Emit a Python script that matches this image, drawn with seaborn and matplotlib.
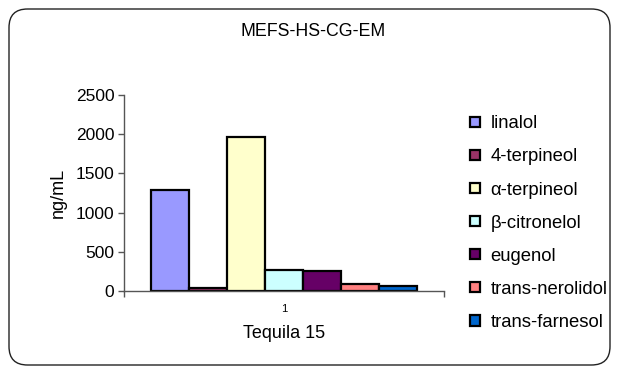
import matplotlib
matplotlib.use("Agg")
import matplotlib.pyplot as plt
from matplotlib.patches import FancyBboxPatch
import seaborn as sns
import pandas as pd

# Concentrations of aroma compounds in one tequila sample
compounds = ["linalol", "4-terpineol", "α-terpineol", "β-citronelol",
             "eugenol", "trans-nerolidol", "trans-farnesol"]
values = [1290, 35, 1965, 265, 250, 95, 70]
sample_labels = ["1"]
bar_colors = ["#9999FF", "#993366", "#FFFFCC", "#CCFFFF",
              "#660066", "#FF8080", "#0066CC"]

df = pd.DataFrame({
    "muestra": sample_labels * len(compounds),
    "compuesto": compounds,
    "ng/mL": values,
})

sns.set_theme(style="white")
plt.rcParams["font.family"] = ["Liberation Sans", "DejaVu Sans"]
plt.rcParams["text.color"] = "black"
plt.rcParams["axes.labelcolor"] = "black"
plt.rcParams["xtick.color"] = "black"
plt.rcParams["ytick.color"] = "black"

fig = plt.figure(figsize=(6.17, 3.75), dpi=100)
ax = fig.add_axes([124 / 617, 1 - 291 / 375, 320 / 617, 196 / 375])

sns.barplot(data=df, x="muestra", y="ng/mL", hue="compuesto",
            hue_order=compounds, palette=bar_colors, width=0.83,
            edgecolor="black", linewidth=1.6, saturation=1, ax=ax,
            legend=True)

ax.set_xlim(-0.5, 0.5)
ax.set_ylim(0, 2500)
ax.set_yticks([0, 500, 1000, 1500, 2000, 2500])
ax.tick_params(axis="y", direction="out", length=4, width=1,
               color="#555555", labelsize=12.5, pad=3, left=True)
ax.set_xticks([0])
ax.set_xticklabels(sample_labels)
ax.tick_params(axis="x", length=0, labelsize=8, pad=9)
ax.set_xticks([-0.5, 0.5], minor=True)
ax.tick_params(axis="x", which="minor", direction="out", length=4,
               width=1, color="#555555", bottom=True)

for side in ["top", "right"]:
    ax.spines[side].set_visible(False)
for side in ["left", "bottom"]:
    ax.spines[side].set_color("#555555")
    ax.spines[side].set_linewidth(1)

ax.set_xlabel("Tequila 15", fontsize=13, labelpad=8)
ax.set_ylabel("ng/mL", fontsize=13, labelpad=6)

handles, labels = ax.get_legend_handles_labels()
ax.get_legend().remove()
for h in handles:
    h.set_linewidth(1.6)
fig.legend(handles, labels, loc="upper left",
           bbox_to_anchor=(463 / 617, 1 - 108 / 375),
           frameon=False, fontsize=13.3, handlelength=0.5,
           handleheight=0.5, handletextpad=0.6, labelspacing=0.87,
           borderaxespad=0)

fig.text(313 / 617, 1 - 31 / 375, "MEFS-HS-CG-EM", ha="center",
         va="center", fontsize=12.8)

frame = FancyBboxPatch((9 / 617, 10 / 375), 601 / 617, 356 / 375,
                       boxstyle="round,pad=0,rounding_size=0.03",
                       transform=fig.transFigure, facecolor="none",
                       edgecolor="#222222", linewidth=1.0,
                       mutation_aspect=617 / 375)
fig.patches.append(frame)

fig.savefig("out.png", dpi=100)
